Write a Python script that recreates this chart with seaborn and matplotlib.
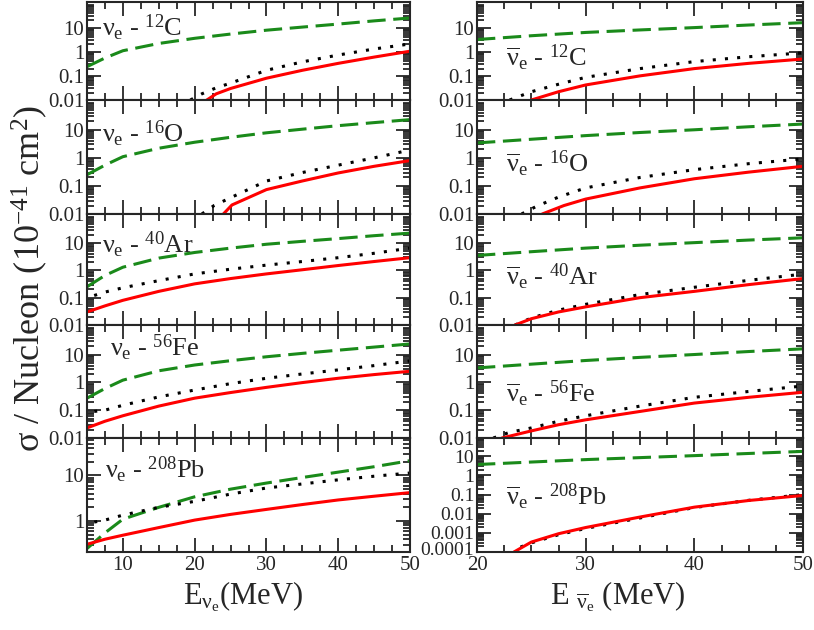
import numpy as np
import pandas as pd
import seaborn as sns
import matplotlib
matplotlib.use("Agg")
import matplotlib.pyplot as plt
from matplotlib.transforms import ScaledTranslation
from matplotlib.ticker import LogLocator, MultipleLocator, FixedLocator, FuncFormatter, NullFormatter

# ---- data ----
# neutrino panels (left column)
x_nu = [5, 7.5, 10, 15, 20, 25, 30, 35, 40, 45, 50]

c12_dash = [0.24, 0.55, 1.1, 2.2, 3.6, 5.4, 7.8, 10.5, 14, 19, 25]
c12_dot_x = [19.4, 21, 23, 25, 30, 35, 40, 45, 50]
c12_dot = [0.01, 0.018, 0.032, 0.05, 0.17, 0.38, 0.73, 1.3, 2.1]
c12_red_x = [21.7, 23, 25, 30, 35, 40, 45, 50]
c12_red = [0.01, 0.018, 0.03, 0.08, 0.17, 0.33, 0.6, 1.05]

o16_dash = [0.25, 0.55, 1.1, 2.2, 3.6, 5.4, 7.8, 10.5, 14, 18, 23]
o16_dot_x = [21, 22.7, 25, 30, 35, 40, 45, 50]
o16_dot = [0.01, 0.02, 0.038, 0.15, 0.3, 0.55, 1.0, 1.9]
o16_red_x = [24, 25.2, 30, 35, 40, 45, 50]
o16_red = [0.01, 0.021, 0.074, 0.15, 0.29, 0.5, 0.8]

ar40_dash = [0.25, 0.65, 1.3, 2.8, 4.5, 6.5, 9, 11.5, 14.5, 18.5, 23]
ar40_dot_x = [6, 7.5, 10, 15, 20, 25, 30, 35, 40, 45, 50]
ar40_dot = [0.12, 0.16, 0.23, 0.42, 0.74, 1.1, 1.55, 2.1, 2.9, 4.2, 6.5]
ar40_red = [0.03, 0.05, 0.08, 0.17, 0.32, 0.5, 0.74, 1.05, 1.5, 2.1, 2.9]

fe56_dash = [0.27, 0.6, 1.2, 2.6, 4.2, 6.0, 8.3, 11, 14.3, 18.5, 24]
fe56_dot_x = [6, 7.5, 10, 15, 20, 25, 30, 35, 40, 45, 50]
fe56_dot = [0.09, 0.1, 0.15, 0.3, 0.53, 0.9, 1.4, 2.0, 2.8, 4.0, 5.9]
fe56_red = [0.023, 0.04, 0.063, 0.14, 0.27, 0.43, 0.66, 0.98, 1.4, 1.9, 2.5]

pb208_dash = [0.25, 0.55, 1.1, 2.0, 3.4, 5.0, 6.8, 9.0, 11.8, 15.5, 21]
pb208_dot_x = [6, 7.5, 10, 15, 20, 25, 30, 35, 40, 45, 50]
pb208_dot = [0.95, 1.05, 1.35, 2.0, 2.7, 3.9, 5.3, 6.5, 8, 9.6, 11.3]
pb208_red = [0.31, 0.4, 0.49, 0.72, 1.05, 1.4, 1.8, 2.3, 2.9, 3.5, 4.2]

# antineutrino panels (right column)
x_anu = [20, 25, 30, 35, 40, 45, 50]

ac12_dash = [3.2, 4.6, 6.3, 8, 10, 12.8, 16]
ac12_dot_x = [23, 25, 27.5, 30, 35, 40, 45, 50]
ac12_dot = [0.01, 0.022, 0.045, 0.087, 0.2, 0.39, 0.62, 0.9]
ac12_red_x = [25, 27.5, 30, 35, 40, 45, 50]
ac12_red = [0.01, 0.022, 0.042, 0.1, 0.2, 0.33, 0.5]

ao16_dash = [3.4, 4.6, 6.2, 8, 10, 12.8, 16]
ao16_dot_x = [24.1, 25.5, 27.5, 30, 35, 40, 45, 50]
ao16_dot = [0.01, 0.019, 0.04, 0.085, 0.2, 0.38, 0.62, 0.92]
ao16_red_x = [26, 28, 30, 35, 40, 45, 50]
ao16_red = [0.01, 0.02, 0.034, 0.085, 0.18, 0.31, 0.5]

aar40_dash = [3.5, 4.8, 6.5, 8.3, 10.3, 12.8, 15.5]
aar40_dot_x = [23.5, 25, 27.5, 30, 35, 40, 45, 50]
aar40_dot = [0.01, 0.018, 0.035, 0.057, 0.13, 0.24, 0.43, 0.73]
aar40_red_x = [23.5, 25, 27.5, 30, 35, 40, 45, 50]
aar40_red = [0.01, 0.017, 0.03, 0.046, 0.1, 0.17, 0.3, 0.5]

afe56_dash = [3.3, 4.5, 6.1, 7.9, 10, 12.8, 16]
afe56_dot_x = [21.5, 23, 25, 27.5, 30, 35, 40, 45, 50]
afe56_dot = [0.01, 0.016, 0.023, 0.04, 0.063, 0.14, 0.29, 0.47, 0.74]
afe56_red_x = [22.3, 25, 27.5, 30, 35, 40, 45, 50]
afe56_red = [0.01, 0.018, 0.03, 0.045, 0.09, 0.18, 0.29, 0.44]

apb208_dash = [3.7, 5, 6.7, 8.5, 10.8, 14, 18]
apb208_dot_x = [24, 25, 27.5, 30, 35, 40, 45, 50]
apb208_dot = [0.00018, 0.0003, 0.0008, 0.0017, 0.006, 0.021, 0.05, 0.1]
apb208_red_x = [23.4, 25, 27.5, 30, 35, 40, 45, 50]
apb208_red = [0.0001, 0.00033, 0.0009, 0.0019, 0.0067, 0.022, 0.049, 0.09]

nu_labels = [r"$\nu_e$ - $^{12}$C", r"$\nu_e$ - $^{16}$O", r"$\nu_e$ - $^{40}$Ar",
             r"$\nu_e$ - $^{56}$Fe", r"$\nu_e$ - $^{208}$Pb"]
anu_labels = [r"$\overline{\nu}_e$ - $^{12}$C", r"$\overline{\nu}_e$ - $^{16}$O",
              r"$\overline{\nu}_e$ - $^{40}$Ar", r"$\overline{\nu}_e$ - $^{56}$Fe",
              r"$\overline{\nu}_e$ - $^{208}$Pb"]
decade_ticks = [0.01, 0.1, 1, 10]
pb_ticks_nu = [1, 10]
pb_ticks_anu = [0.0001, 0.001, 0.01, 0.1, 1, 10]

# ---- style ----
sns.set_style("ticks")
plt.rcParams["font.family"] = ["Liberation Serif", "DejaVu Serif"]
plt.rcParams["mathtext.fontset"] = "custom"
plt.rcParams["mathtext.rm"] = "Liberation Serif"
plt.rcParams["mathtext.it"] = "Liberation Serif"
plt.rcParams["mathtext.bf"] = "Liberation Serif:bold"

GREEN = "#1a8a1a"
RED = "#ff0000"
LW = 2.2
dash_style = (0, (6, 2.5))
dot_style = (0, (1, 3))

fig = plt.figure(figsize=(8.14, 6.3), dpi=100)
W, H = 814.0, 630.0
rows = [2, 100, 214, 325, 438, 552]
cols = [(87, 410), (477, 803)]


def make_ax(col, row):
    x0, x1 = cols[col]
    top, bot = rows[row], rows[row + 1]
    return fig.add_axes([x0 / W, 1 - bot / H, (x1 - x0) / W, (bot - top) / H])


def style_ax(ax, xlim, ylim, yticks, xmajor, bottom_row):
    ax.set_yscale("log")
    ax.set_xlim(*xlim)
    ax.set_ylim(*ylim)
    ax.yaxis.set_major_locator(FixedLocator(yticks))
    ax.yaxis.set_major_formatter(FuncFormatter(lambda v, p: f"{v:g}"))
    ax.yaxis.set_minor_locator(LogLocator(base=10, subs=np.arange(2, 10), numticks=30))
    ax.yaxis.set_minor_formatter(NullFormatter())
    ax.xaxis.set_major_locator(MultipleLocator(xmajor))
    ax.xaxis.set_minor_locator(MultipleLocator(2.5))
    ax.tick_params(which="both", direction="in", top=True, right=True,
                   width=1.3, labelsize=15, pad=3)
    ax.tick_params(which="major", length=10)
    ax.tick_params(which="minor", length=5)
    ax.tick_params(axis="y", pad=2)
    if not bottom_row:
        ax.tick_params(axis="x", labelbottom=False)
    for s in ax.spines.values():
        s.set_linewidth(1.5)
    ax.set_xlabel("")
    ax.set_ylabel("")


def draw(ax, xd, yd, xo, yo, xr, yr):
    sns.lineplot(x=xd, y=yd, ax=ax, color=GREEN, lw=LW, linestyle=dash_style)
    sns.lineplot(x=xo, y=yo, ax=ax, color="black", lw=LW, linestyle=dot_style,
                 dash_capstyle="butt")
    sns.lineplot(x=xr, y=yr, ax=ax, color=RED, lw=LW)


left_sets = [
    (x_nu, c12_dash, c12_dot_x, c12_dot, c12_red_x, c12_red),
    (x_nu, o16_dash, o16_dot_x, o16_dot, o16_red_x, o16_red),
    (x_nu, ar40_dash, ar40_dot_x, ar40_dot, x_nu, ar40_red),
    (x_nu, fe56_dash, fe56_dot_x, fe56_dot, x_nu, fe56_red),
    (x_nu, pb208_dash, pb208_dot_x, pb208_dot, x_nu, pb208_red),
]
right_sets = [
    (x_anu, ac12_dash, ac12_dot_x, ac12_dot, ac12_red_x, ac12_red),
    (x_anu, ao16_dash, ao16_dot_x, ao16_dot, ao16_red_x, ao16_red),
    (x_anu, aar40_dash, aar40_dot_x, aar40_dot, aar40_red_x, aar40_red),
    (x_anu, afe56_dash, afe56_dot_x, afe56_dot, afe56_red_x, afe56_red),
    (x_anu, apb208_dash, apb208_dot_x, apb208_dot, apb208_red_x, apb208_red),
]
left_txt = [(0.046, 0.65), (0.046, 0.63), (0.046, 0.65), (0.07, 0.72), (0.055, 0.65)]
right_txt = [(0.089, 0.34), (0.089, 0.37), (0.089, 0.36), (0.089, 0.32), (0.089, 0.41)]

for i in range(5):
    last = i == 4
    ax = make_ax(0, i)
    draw(ax, *left_sets[i])
    ylim = (0.21, 66) if last else (0.01, 115)
    style_ax(ax, (5, 50), ylim, pb_ticks_nu if last else decade_ticks, 10, last)
    ax.text(*left_txt[i], nu_labels[i], transform=ax.transAxes, fontsize=19,
            va="baseline", ha="left")

    ax = make_ax(1, i)
    draw(ax, *right_sets[i])
    ylim = (0.0001, 90) if last else (0.01, 115)
    style_ax(ax, (20, 50), ylim, pb_ticks_anu if last else decade_ticks, 10, last)
    ax.text(*right_txt[i], anu_labels[i], transform=ax.transAxes, fontsize=19,
            va="baseline", ha="left")
    if last:
        # decades are tight here: slightly smaller labels, lowest one nudged up
        ax.tick_params(axis="y", labelsize=14)
        lbl = ax.yaxis.get_major_ticks()[0].label1
        lbl.set_transform(lbl.get_transform() + ScaledTranslation(0, 2.5 / 72, fig.dpi_scale_trans))

fig.text(30 / W, 1 - 278 / H, r"σ / Nucleon (10$^{-41}$ cm$^{2}$)", rotation=90,
         fontsize=26, ha="center", va="center")
fig.text(243 / W, 1 - 604 / H, r"E$_{\nu_e}$(MeV)", fontsize=22, ha="center", va="baseline")
fig.text(618 / W, 1 - 604 / H, r"E $_{\overline{\nu}_e}$ (MeV)", fontsize=22, ha="center",
         va="baseline")

fig.savefig("out.png", dpi=100)
